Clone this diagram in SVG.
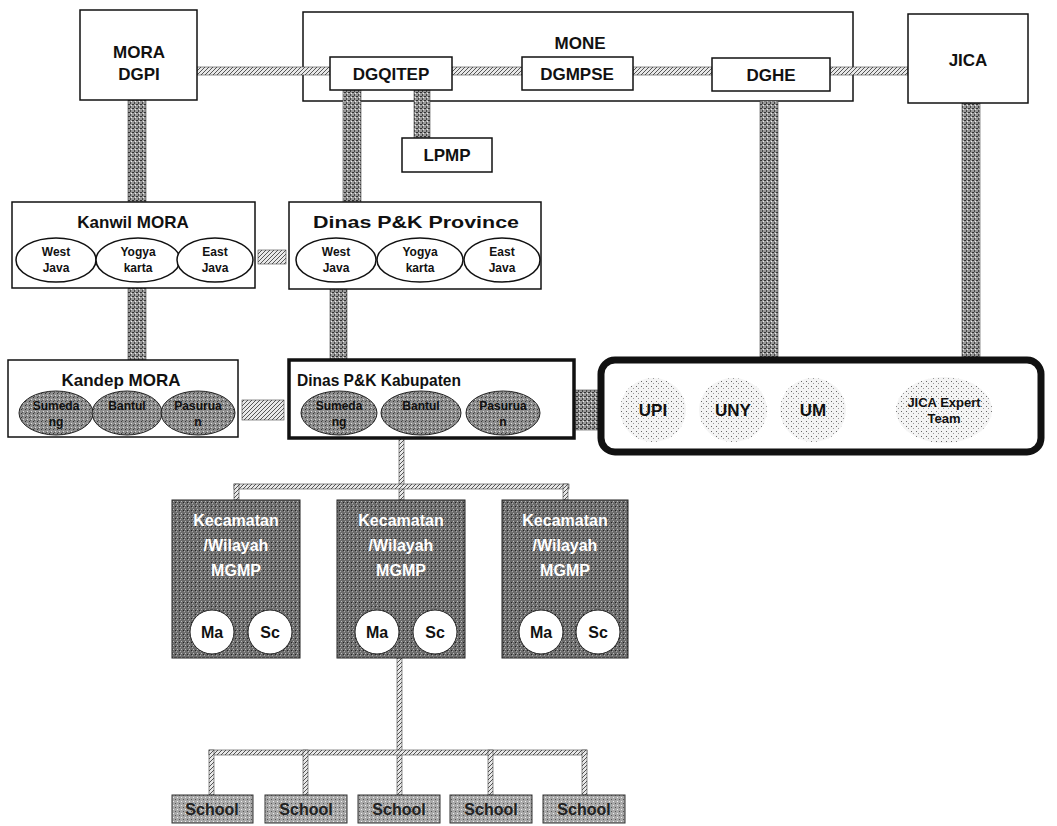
<svg xmlns="http://www.w3.org/2000/svg" width="1057" height="826" viewBox="0 0 1057 826">
<defs>
<pattern id="hatch" width="4" height="4" patternUnits="userSpaceOnUse"><rect width="4" height="4" fill="#e8e8e8"/><path d="M0 4 L4 0" stroke="#555" stroke-width="1"/></pattern>
<pattern id="dark" width="4" height="4" patternUnits="userSpaceOnUse"><rect width="4" height="4" fill="#9a9a9a"/><rect x="0" y="0" width="2" height="1" fill="#333"/><rect x="2" y="2" width="1" height="2" fill="#444"/><rect x="3" y="1" width="1" height="1" fill="#eee"/></pattern>
<pattern id="grey" width="4" height="4" patternUnits="userSpaceOnUse"><rect width="4" height="4" fill="#8f8f8f"/><rect x="1" y="1" width="1" height="1" fill="#333"/><rect x="3" y="3" width="1" height="1" fill="#ddd"/><rect x="2" y="0" width="1" height="1" fill="#555"/></pattern>
<pattern id="kec" width="4" height="4" patternUnits="userSpaceOnUse"><rect width="4" height="4" fill="#6c6c6c"/><rect x="1" y="1" width="1" height="1" fill="#bbb"/><rect x="3" y="2" width="1" height="1" fill="#222"/><rect x="0" y="3" width="1" height="1" fill="#aaa"/></pattern>
<pattern id="school" width="4" height="4" patternUnits="userSpaceOnUse"><rect width="4" height="4" fill="#a8a8a8"/><rect x="1" y="1" width="1" height="1" fill="#eee"/><rect x="3" y="3" width="1" height="1" fill="#555"/></pattern>
<pattern id="dots" width="5" height="5" patternUnits="userSpaceOnUse"><rect width="5" height="5" fill="#f4f4f4"/><rect x="1" y="1" width="1" height="1" fill="#666"/><rect x="3" y="3" width="1" height="1" fill="#999"/></pattern>
</defs>
<style>
text{font-family:"Liberation Sans",Arial,sans-serif;text-anchor:middle;fill:#111}
.box{fill:#fff;stroke:#111;stroke-width:1.5}
.t{font-size:17px;font-weight:bold}
.s{font-size:17px;font-weight:bold}
.e{fill:#fff;stroke:#111;stroke-width:1.5}
.et{font-size:12px;font-weight:bold}
.ge{fill:url(#grey);stroke:#222;stroke-width:1}
.ue{fill:url(#dots);stroke:none}
.ut{font-size:17px;font-weight:bold}
.h{fill:url(#hatch);stroke:#444;stroke-width:0.6}
.d{fill:url(#dark);stroke:#444;stroke-width:0.6}
.kec{fill:url(#kec);stroke:#222;stroke-width:1}
.kt{font-size:16px;fill:#fff;font-weight:bold}
.c{fill:#fff;stroke:#222;stroke-width:1}
.ct{font-size:16px;font-weight:bold}
.sch{fill:url(#school);stroke:#333;stroke-width:1}
.st{font-size:16px;font-weight:bold;fill:#222}
</style>
<g id="mone"><rect class="box" x="303" y="12" width="550" height="89"/><text class="t" x="580" y="49">MONE</text></g>
<g id="connectors">
<rect class="h" x="197" y="67" width="133" height="8"/>
<rect class="h" x="452" y="67" width="70" height="8"/>
<rect class="h" x="633" y="67" width="79" height="8"/>
<rect class="h" x="830" y="67" width="78" height="8"/>
<rect class="d" x="128" y="100" width="18" height="102"/>
<rect class="d" x="343" y="90" width="18" height="112"/>
<rect class="d" x="414" y="90" width="16" height="48"/>
<rect class="d" x="760" y="101" width="18" height="256"/>
<rect class="d" x="962" y="103" width="18" height="254"/>
<rect class="h" x="258" y="250" width="28" height="14"/>
<rect class="d" x="128" y="288" width="18" height="72"/>
<rect class="d" x="330" y="289" width="17" height="71"/>
<rect class="h" x="242" y="400" width="42" height="20"/>
<rect class="d" x="574" y="390" width="24" height="40"/>
<rect class="h" x="399" y="438" width="5" height="62"/>
<rect class="h" x="234" y="484" width="335" height="5"/>
<rect class="h" x="234" y="484" width="5" height="16"/>
<rect class="h" x="563" y="484" width="5" height="16"/>
<rect class="h" x="397" y="658" width="5" height="137"/>
<rect class="h" x="209" y="750" width="378" height="5"/>
<rect class="h" x="209" y="750" width="5" height="45"/>
<rect class="h" x="303" y="750" width="5" height="45"/>
<rect class="h" x="488" y="750" width="5" height="45"/>
<rect class="h" x="582" y="750" width="5" height="45"/>
</g>
<g id="mora"><rect class="box" x="80" y="10" width="117" height="90"/><text class="t" x="139" y="58">MORA</text><text class="t" x="139" y="80">DGPI</text></g>
<g id="dgqitep"><rect class="box" x="330" y="57" width="122" height="33"/><text class="s" x="391" y="80">DGQITEP</text></g>
<g id="dgmpse"><rect class="box" x="522" y="57" width="111" height="33"/><text class="s" x="577" y="80">DGMPSE</text></g>
<g id="dghe"><rect class="box" x="712" y="58" width="118" height="33"/><text class="s" x="771" y="81">DGHE</text></g>
<g id="jica"><rect class="box" x="908" y="14" width="120" height="89"/><text class="t" x="968" y="66">JICA</text></g>
<g id="lpmp"><rect class="box" x="402" y="138" width="90" height="34"/><text class="s" x="447" y="161">LPMP</text></g>
<g id="kanwil"><rect class="box" x="12" y="202" width="243" height="86"/><text class="t" x="133" y="228">Kanwil MORA</text>
<ellipse class="e" cx="56" cy="260" rx="40" ry="22"/><ellipse class="e" cx="138" cy="260" rx="42" ry="22"/><ellipse class="e" cx="215" cy="260" rx="38" ry="22"/>
<text class="et" x="56" y="256">West</text><text class="et" x="56" y="272">Java</text>
<text class="et" x="138" y="256">Yogya</text><text class="et" x="138" y="272">karta</text>
<text class="et" x="215" y="256">East</text><text class="et" x="215" y="272">Java</text></g>
<g id="province"><rect class="box" x="289" y="202" width="252" height="87"/><text class="t" x="416" y="228" textLength="206" lengthAdjust="spacingAndGlyphs">Dinas P&amp;K Province</text>
<ellipse class="e" cx="336" cy="260" rx="40" ry="22"/><ellipse class="e" cx="420" cy="260" rx="43" ry="22"/><ellipse class="e" cx="502" cy="260" rx="38" ry="22"/>
<text class="et" x="336" y="256">West</text><text class="et" x="336" y="272">Java</text>
<text class="et" x="420" y="256">Yogya</text><text class="et" x="420" y="272">karta</text>
<text class="et" x="502" y="256">East</text><text class="et" x="502" y="272">Java</text></g>
<g id="kandep"><rect class="box" x="8" y="360" width="230" height="77"/><text class="t" x="121" y="386">Kandep MORA</text>
<ellipse class="ge" cx="56" cy="413" rx="37" ry="22"/><ellipse class="ge" cx="127" cy="413" rx="35" ry="22"/><ellipse class="ge" cx="198" cy="413" rx="37" ry="22"/>
<text class="et" x="56" y="410">Sumeda</text><text class="et" x="56" y="426">ng</text>
<text class="et" x="127" y="410">Bantul</text>
<text class="et" x="198" y="410">Pasurua</text><text class="et" x="198" y="426">n</text></g>
<g id="kabupaten"><rect class="box" x="289" y="360" width="285" height="78" style="stroke-width:3.5"/><text class="t" x="379" y="386" textLength="164" lengthAdjust="spacingAndGlyphs">Dinas P&amp;K Kabupaten</text>
<ellipse class="ge" cx="339" cy="413" rx="38" ry="22"/><ellipse class="ge" cx="421" cy="413" rx="40" ry="22"/><ellipse class="ge" cx="503" cy="413" rx="37" ry="22"/>
<text class="et" x="339" y="410">Sumeda</text><text class="et" x="339" y="426">ng</text>
<text class="et" x="421" y="410">Bantul</text>
<text class="et" x="503" y="410">Pasurua</text><text class="et" x="503" y="426">n</text></g>
<g id="universities"><rect x="601" y="360" width="440" height="92" rx="14" fill="#fff" stroke="#111" stroke-width="7"/>
<ellipse class="ue" cx="653" cy="410" rx="33" ry="32"/><ellipse class="ue" cx="733" cy="410" rx="34" ry="32"/><ellipse class="ue" cx="813" cy="410" rx="33" ry="32"/><ellipse class="ue" cx="944" cy="410" rx="48" ry="33"/>
<text class="ut" x="653" y="416">UPI</text><text class="ut" x="733" y="416">UNY</text><text class="ut" x="813" y="416">UM</text>
<text class="et" x="944" y="407" style="font-size:13px">JICA Expert</text><text class="et" x="944" y="423" style="font-size:13px">Team</text></g>
<g id="kecamatan1"><rect class="kec" x="172" y="500" width="128" height="158"/><text class="kt" x="236" y="526">Kecamatan</text><text class="kt" x="236" y="551">/Wilayah</text><text class="kt" x="236" y="576">MGMP</text>
<circle class="c" cx="212" cy="632" r="22"/><circle class="c" cx="270" cy="632" r="22"/><text class="ct" x="212" y="638">Ma</text><text class="ct" x="270" y="638">Sc</text></g>
<g id="kecamatan2"><rect class="kec" x="337" y="500" width="128" height="158"/><text class="kt" x="401" y="526">Kecamatan</text><text class="kt" x="401" y="551">/Wilayah</text><text class="kt" x="401" y="576">MGMP</text>
<circle class="c" cx="377" cy="632" r="22"/><circle class="c" cx="435" cy="632" r="22"/><text class="ct" x="377" y="638">Ma</text><text class="ct" x="435" y="638">Sc</text></g>
<g id="kecamatan3"><rect class="kec" x="502" y="500" width="126" height="158"/><text class="kt" x="565" y="526">Kecamatan</text><text class="kt" x="565" y="551">/Wilayah</text><text class="kt" x="565" y="576">MGMP</text>
<circle class="c" cx="541" cy="632" r="22"/><circle class="c" cx="598" cy="632" r="22"/><text class="ct" x="541" y="638">Ma</text><text class="ct" x="598" y="638">Sc</text></g>
<g id="school1"><rect class="sch" x="172" y="795" width="81" height="28"/><text class="st" x="212" y="815">School</text></g>
<g id="school2"><rect class="sch" x="265" y="795" width="82" height="28"/><text class="st" x="306" y="815">School</text></g>
<g id="school3"><rect class="sch" x="358" y="795" width="82" height="28"/><text class="st" x="399" y="815">School</text></g>
<g id="school4"><rect class="sch" x="450" y="795" width="82" height="28"/><text class="st" x="491" y="815">School</text></g>
<g id="school5"><rect class="sch" x="543" y="795" width="82" height="28"/><text class="st" x="584" y="815">School</text></g>
</svg>
